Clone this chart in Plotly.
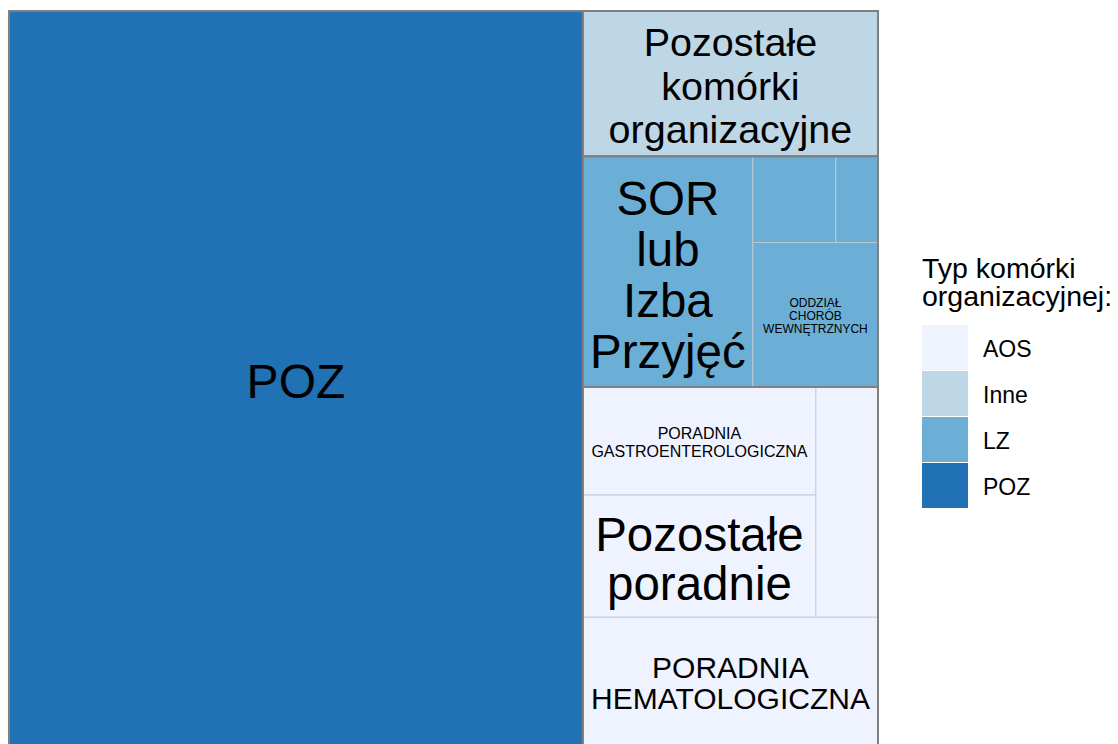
import plotly.graph_objects as go

# --- data ---------------------------------------------------------------
labels = [
    "POZ",
    "Pozostałe\nkomórki\norganizacyjne",
    "SOR\nlub\nIzba\nPrzyjęć",
    "",
    "",
    "ODDZIAŁ\nCHORÓB\nWEWNĘTRZNYCH",
    "PORADNIA\nGASTROENTEROLOGICZNA",
    "Pozostałe\nporadnie",
    "",
    "PORADNIA\nHEMATOLOGICZNA",
]
types = ["POZ", "Inne", "LZ", "LZ", "LZ", "LZ", "AOS", "AOS", "AOS", "AOS"]
values = [6605, 672, 614, 112, 57, 283, 395, 446, 224, 593]

legend_order = ["AOS", "Inne", "LZ", "POZ"]
legend_title = ["Typ komórki", "organizacyjnej:"]

# --- style --------------------------------------------------------------
colors = {"AOS": "#eff3ff", "Inne": "#bdd7e7", "LZ": "#6baed6", "POZ": "#2171b5"}
FONT = "Liberation Sans, Arial, sans-serif"
# label font size (px) and line spacing factor
label_style = {0: (48, 1.1), 1: (39.5, 1.1), 2: (47.5, 1.07), 5: (12, 1.08),
               6: (16, 1.12), 7: (47.5, 1.02), 9: (30, 1.04)}

# slicing structure of the tiling: "h" = left->right, "v" = top->bottom
tree = ("h", [0, ("v", [1,
                        ("h", [2, ("v", [("h", [3, 4]), 5])]),
                        ("v", [("h", [("v", [6, 7]), 8]), 9])])])

W, H = 869, 733          # plot units == pixels
OFF = 8                  # page body margin
FW, FH = 1110, 736
L, T, PW, PH = 0, 1, 871, 735


def total(node):
    if isinstance(node, int):
        return values[node]
    return sum(total(c) for c in node[1])


rects = {}


def tile(node, x0, y0, x1, y1):
    if isinstance(node, int):
        rects[node] = (x0, y0, x1, y1)
        return
    kind, kids = node
    s = total(node)
    if kind == "h":
        x = x0
        for c in kids:
            w = (x1 - x0) * total(c) / s
            tile(c, x, y0, x + w, y1)
            x += w
    else:
        y = y1
        for c in kids:
            h = (y1 - y0) * total(c) / s
            tile(c, x0, y - h, x1, y)
            y -= h


tile(tree, 0, 0, W, H)

fig = go.Figure()

for i in range(len(values)):
    x0, y0, x1, y1 = rects[i]
    fig.add_trace(go.Scatter(
        x=[x0, x1, x1, x0, x0], y=[y0, y0, y1, y1, y0],
        mode="lines", fill="toself", fillcolor=colors[types[i]],
        line=dict(color="rgba(195,200,206,0.9)", width=1),
        hoveron="fills", hoverinfo="text",
        text=f"{labels[i].replace(chr(10), ' ') or types[i]}: {values[i]}",
        showlegend=False))

# group outlines
for g in legend_order:
    rs = [rects[i] for i in range(len(values)) if types[i] == g]
    gx0 = min(r[0] for r in rs); gy0 = min(r[1] for r in rs)
    gx1 = max(r[2] for r in rs); gy1 = max(r[3] for r in rs)
    fig.add_trace(go.Scatter(
        x=[gx0, gx1, gx1, gx0, gx0], y=[gy0, gy0, gy1, gy1, gy0],
        mode="lines", line=dict(color="#808080", width=2),
        hoverinfo="skip", showlegend=False))

# cell labels, one point per line
tx, ty, tt, ts = [], [], [], []
for i, lab in enumerate(labels):
    if not lab:
        continue
    size, sp = label_style[i]
    x0, y0, x1, y1 = rects[i]
    cx, cy = (x0 + x1) / 2, (y0 + y1) / 2 - 0.16 * size
    lines = lab.split("\n")
    n = len(lines)
    for k, line in enumerate(lines):
        tx.append(cx)
        ty.append(cy + ((n - 1) / 2 - k) * size * sp)
        tt.append(line)
        ts.append(size)
fig.add_trace(go.Scatter(
    x=tx, y=ty, text=tt, mode="text", textposition="middle center",
    textfont=dict(family=FONT, size=ts, color="#000000"),
    hoverinfo="skip", showlegend=False))


# --- legend (drawn in paper coordinates, page pixels) -------------------
def px(xp):
    return (xp - OFF - L) / PW


def py(yp):
    return 1 - (yp - OFF - T) / PH


shapes, annots = [], []
for k, line in enumerate(legend_title):
    annots.append(dict(x=px(920), y=py(268 + 27.5 * k), xref="paper", yref="paper",
                       text=line, showarrow=False, xanchor="left", yanchor="middle",
                       font=dict(family=FONT, size=28.5, color="#000000")))
for k, g in enumerate(legend_order):
    top = 325 + 46 * k
    shapes.append(dict(type="rect", xref="paper", yref="paper",
                       x0=px(922), x1=px(968), y0=py(top), y1=py(top + 45),
                       fillcolor=colors[g], line=dict(width=0)))
    annots.append(dict(x=px(981), y=py(top + 24), xref="paper", yref="paper",
                       text=g, showarrow=False, xanchor="left", yanchor="middle",
                       font=dict(family=FONT, size=23, color="#000000")))

fig.update_layout(
    width=FW, height=FH,
    margin=dict(l=L, r=FW - L - PW, t=T, b=FH - T - PH),
    plot_bgcolor="white", paper_bgcolor="white",
    xaxis=dict(range=[-1, W + 1], visible=False, fixedrange=True),
    yaxis=dict(range=[1.5, H + 2], visible=False, fixedrange=True),
    shapes=shapes, annotations=annots,
    font=dict(family=FONT),
    showlegend=False,
)

fig.write_html("out.html")
